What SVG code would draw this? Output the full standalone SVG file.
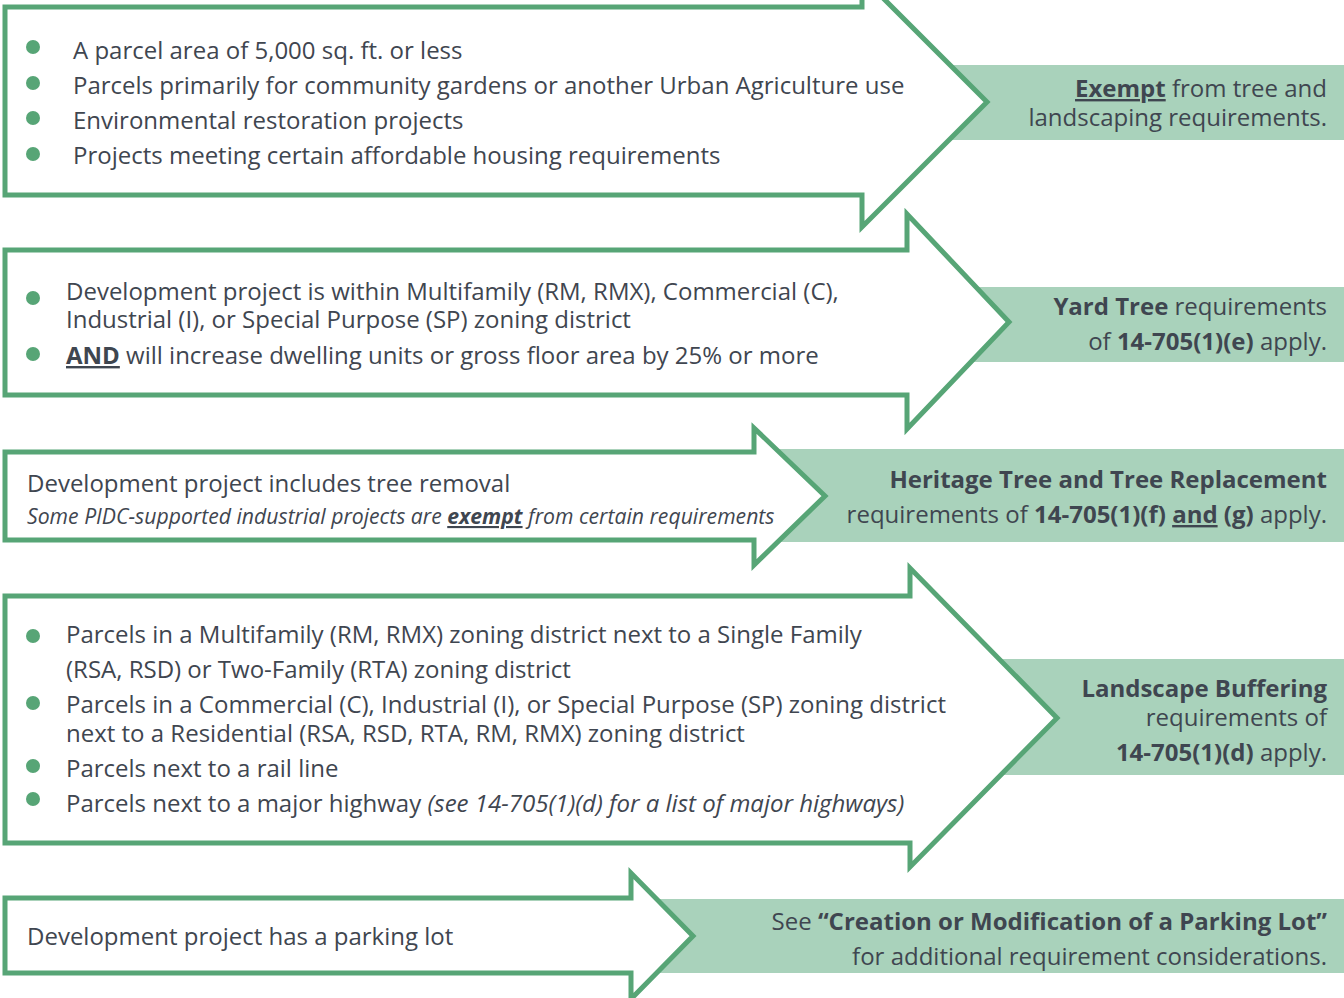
<svg xmlns="http://www.w3.org/2000/svg" width="1344" height="998" viewBox="0 0 1344 998">
<style>
.band{fill:#a9d2bb}
.arrow{fill:#ffffff;stroke:#57a576;stroke-width:5;stroke-linejoin:miter}
.dot{fill:#57a576}
text{font-family:"Open Sans","Noto Sans","Liberation Sans",sans-serif;fill:#3f4650;font-size:24px}
.r{text-anchor:end}
.b{font-weight:bold}
.u{text-decoration:underline}
.i{font-style:italic}
.sm{font-size:21.2px}
</style>
<rect width="1344" height="998" fill="#ffffff"/>
<g id="connectors"/>
<g id="node1">
<rect class="band" x="900" y="65" width="444" height="75"/>
<polygon class="arrow" points="5,7 862,7 862,-23 987,102 862,227 862,195 5,195"/>
<circle class="dot" cx="33" cy="47" r="7"/>
<circle class="dot" cx="33" cy="83" r="7"/>
<circle class="dot" cx="33" cy="118" r="7"/>
<circle class="dot" cx="33" cy="154" r="7"/>
<text x="73" y="59">A parcel area of 5,000 sq. ft. or less</text>
<text x="73" y="94">Parcels primarily for community gardens or another Urban Agriculture use</text>
<text x="73" y="129">Environmental restoration projects</text>
<text x="73" y="164">Projects meeting certain affordable housing requirements</text>
<text class="r" x="1327" y="97"><tspan class="b u">Exempt</tspan> from tree and</text>
<text class="r" x="1327" y="126">landscaping requirements.</text>
</g>
<g id="node2">
<rect class="band" x="950" y="287" width="394" height="75"/>
<polygon class="arrow" points="5,250 907,250 907,214 1009,322 907,429 907,395 5,395"/>
<circle class="dot" cx="33" cy="298" r="7"/>
<circle class="dot" cx="33" cy="354" r="7"/>
<text x="66" y="300">Development project is within Multifamily (RM, RMX), Commercial (C),</text>
<text x="66" y="328">Industrial (I), or Special Purpose (SP) zoning district</text>
<text x="66" y="364"><tspan class="b u">AND</tspan> will increase dwelling units or gross floor area by 25% or more</text>
<text class="r" x="1327" y="315"><tspan class="b">Yard Tree</tspan> requirements</text>
<text class="r" x="1327" y="350">of <tspan class="b">14-705(1)(e)</tspan> apply.</text>
</g>
<g id="node3">
<rect class="band" x="770" y="449" width="574" height="93"/>
<polygon class="arrow" points="5,452 754,452 754,428 825,496 754,565 754,540 5,540"/>
<text x="27" y="492">Development project includes tree removal</text>
<text class="i sm" x="27" y="524">Some PIDC-supported industrial projects are <tspan class="b u">exempt</tspan> from certain requirements</text>
<text class="r b" x="1327" y="488">Heritage Tree and Tree Replacement</text>
<text class="r" x="1327" y="523">requirements of <tspan class="b">14-705(1)(f)</tspan> <tspan class="b u">and</tspan> <tspan class="b">(g)</tspan> apply.</text>
</g>
<g id="node4">
<rect class="band" x="980" y="659" width="364" height="116"/>
<polygon class="arrow" points="5,596 910,596 910,568 1057,718 910,867 910,843 5,843"/>
<circle class="dot" cx="33" cy="636" r="7"/>
<circle class="dot" cx="33" cy="703" r="7"/>
<circle class="dot" cx="33" cy="766" r="7"/>
<circle class="dot" cx="33" cy="799" r="7"/>
<text x="66" y="643">Parcels in a Multifamily (RM, RMX) zoning district next to a Single Family</text>
<text x="66" y="678">(RSA, RSD) or Two-Family (RTA) zoning district</text>
<text x="66" y="713">Parcels in a Commercial (C), Industrial (I), or Special Purpose (SP) zoning district</text>
<text x="66" y="742">next to a Residential (RSA, RSD, RTA, RM, RMX) zoning district</text>
<text x="66" y="777">Parcels next to a rail line</text>
<text x="66" y="812">Parcels next to a major highway <tspan class="i">(see 14-705(1)(d) for a list of major highways)</tspan></text>
<text class="r b" x="1327" y="697">Landscape Buffering</text>
<text class="r" x="1327" y="726">requirements of</text>
<text class="r" x="1327" y="761"><tspan class="b">14-705(1)(d)</tspan> apply.</text>
</g>
<g id="node5">
<rect class="band" x="650" y="899" width="694" height="74"/>
<polygon class="arrow" points="5,898 631,898 631,873 693,936 631,999 631,973 5,973"/>
<text x="27" y="945">Development project has a parking lot</text>
<text class="r" x="1327" y="930">See <tspan class="b">“Creation or Modification of a Parking Lot”</tspan></text>
<text class="r" x="1327" y="965">for additional requirement considerations.</text>
</g>
</svg>
